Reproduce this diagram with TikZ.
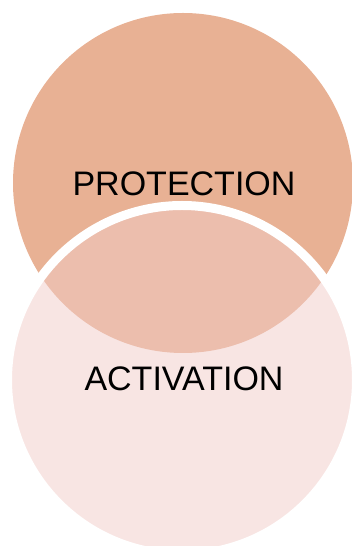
\documentclass[tikz,border=0pt]{standalone}
\usepackage{fontspec}
\setmainfont{Liberation Sans}
\definecolor{topfill}{RGB}{232,177,148}
\definecolor{botfill}{RGB}{241,203,199}
\begin{document}
\begin{tikzpicture}[x=1pt,y=1pt,
  venn/.style={circle,inner sep=0pt},
  lbl/.style={font=\fontsize{34}{38}\selectfont,text=black,inner sep=0pt}]
\useasboundingbox (0,0) rectangle (351,546);
\node[venn,minimum size=340pt,fill=topfill] (top) at (183,363) {};
\node[venn,minimum size=349pt,draw=white,line width=9pt,fill=botfill,fill opacity=0.5,draw opacity=1] (bot) at (182,166) {};
\node[lbl] (ptext) at (184,362.6) {PROTECTION};
\node[lbl] (atext) at (184,167.7) {ACTIVATION};
\end{tikzpicture}
\end{document}
